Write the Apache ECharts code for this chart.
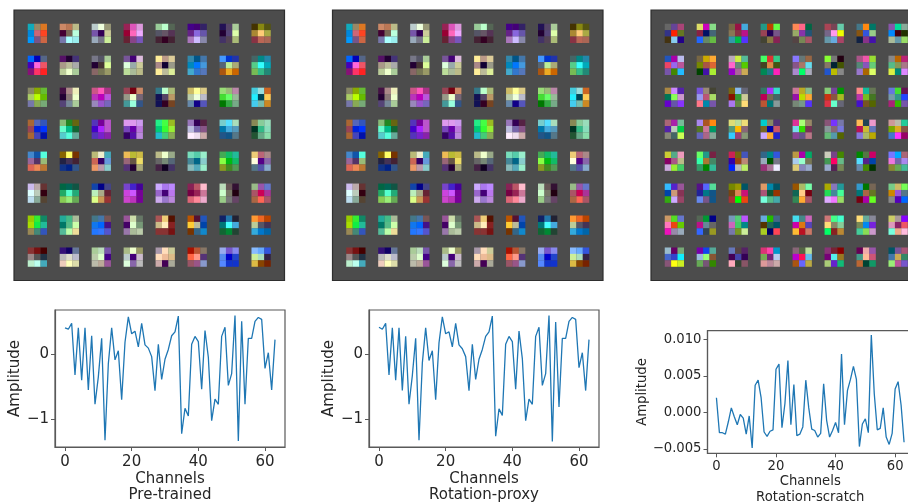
<!DOCTYPE html>
<html><head><meta charset="utf-8">
<style>html,body{margin:0;padding:0;background:#fff;overflow:hidden}#c{width:908px;height:502px}</style>
<script src="https://cdn.jsdelivr.net/npm/echarts@6/dist/echarts.min.js"></script>
</head><body><div id="c"></div>
<script>
// Filter tiles: 8 rows of 8 tiles, each tile 3x3 cells (3-digit hex colours, row by row)
const pretrainedFilters = [
"1AB 986 D72 08D C67 F42 09F 758 C64","C86 B75 BB8 403 765 BFD 77A AFF 9EE","BCC EFD 997 75A 305 CC9 9AB 778 CE9","925 D5B D9D 903 F6B EAF 623 848 75B","9C9 BFC 565 556 656 535 423 302 423","408 407 326 628 86D 65A A7B CBF 88A","215 546 AC9 203 547 DFA 436 545 AB7","430 881 551 A83 FC7 AA4 834 B65 A65",
"06F 00B 568 40B F6D E56 817 F36 F22","516 203 437 A98 BB9 AAA BC9 EFC AC9","778 556 AC9 203 433 DF9 866 775 996","759 407 DBD DFD 9AA CC9 BD9 AB9 BB8","FE9 B98 DC9 A88 103 998 FE9 BB9 DE9","38A 058 47A 08B 07F 49D 4AC 37C 57B","49F 03C 23A 567 BE9 AA7 A51 EA2 C60","466 088 28A 5C8 3FF 0AB 7B5 3B8 287",
"886 8A0 6B3 AC6 BF0 6B0 77A 8A5 7A7","414 A88 EEB 203 877 EFC 547 789 AC9","C58 F5B A38 B3B B0B B5D 98B 95C 76B","945 701 C86 998 EFC 767 499 9FD 358","378 BFC AB7 115 546 B96 115 302 742","CB6 FF9 DC8 BCA EFD BBC 68A 108 55B","9D7 9B7 B8A 4D3 6F6 9B9 070 3A4 7A8","4CD 9DD C62 2EF 045 FC5 4CE 7BA C82",
"A63 56B 35B 945 02D 03F A63 44B 01A","8B7 282 661 6FC 0B8 163 5CC 5FD 6A9","53B 709 B5C 40C A2F B5C 53B 72C 82A","D9E D9E C9E 74B 60A B7D 306 51A B8D","2E8 4F4 9B2 0C7 3F3 9E3 2BC 4C7 8A5","97B 305 524 BBD 76A 858 FEF EDE CAA","7CC 5DF ADB 07A 4AD 59B 258 158 578","885 8C9 9DB 032 3B8 8DB 253 6A8 8DA",
"48C 15A 5FD 969 536 9B7 D65 E85 B73","860 FF6 730 224 435 423 138 028 358","BB7 EEC 4AB C65 306 69D E96 B9A 8CC","EB5 BB3 CB4 967 654 ED6 537 203 AA7","BB8 EFC 9A8 666 787 567 424 102 436","7DB 5CA 9EC 489 068 8CC 8BB 5AB 9EC","4A5 1B6 2B9 8F4 0B1 1B6 892 482 595","EC7 B67 A88 FFD 508 86A 578 55A 8AC",
"CBE BAA 633 DFF BCB 301 BDE 8A9 543","064 065 154 2A6 5FC 2A7 8C5 9E7 6A5","14A 008 448 BEB AA8 623 DF8 C95 933","74C 42C 409 C4D C5F 709 C4C B3B 709","CAF A7E B8F 96C 407 B7E CAE 97C B8D","825 B56 FBC 704 925 C79 D67 F89 EAC","BDB 655 313 CFC 776 201 9C8 777 646","9B8 95A 67C A56 C05 A39 A64 F65 A56",
"9C0 3E3 186 AD0 1E4 2B9 985 487 35B","2A9 4B8 AB9 076 5B8 CFA 5B9 BFA ED9","478 47A 755 17E 06F 418 27F 37F 55C","959 CDA 676 406 DFC 797 97A AB9 BCA","A55 EC7 510 CB8 FEB 822 833 833 711","B50 513 25B FC3 BB9 04A 730 368 18C","126 27A 223 077 4FF 4AD 163 083 243","F93 E62 B40 BC9 556 435 3AD 07C 06A",
"833 711 400 988 555 234 BEC BFE 4AB","317 106 679 BBB DDC BBC ECB FFB DDA","AC9 BDB 75A BCA DFC 408 BBA BA9 959","AB8 EFC 996 BCC 407 CBC DFD 86A BBB","A9A FDB CC9 FDB EB9 DB8 CAA 405 AA9","A10 B53 876 F64 F98 537 956 958 89C","9AE 75C 88E 58E 00C 24C 58F 13C 13C","8BF 6AF 35D CE9 ADB 324 DB4 840 720"
];
const proxyFilters = pretrainedFilters;
const scratchFilters = [
"666 649 A47 338 F20 672 431 8CE 208","DD6 C0B 8D8 824 016 467 26F 686 6B4","764 914 4AD 875 834 B18 39A 0B4 53F","298 B40 6F4 945 205 758 443 874 825","F85 F68 064 9A6 83A 257 544 785 A56","A45 745 6CA 768 F9E EF0 69A 6AD A46","478 F81 076 851 35D 9C8 124 838 41A","85A 0D9 8A9 08F 401 230 AB9 69A 9D6",
"25B A0A BBE E46 96E B59 75A 480 2BF","764 CA0 FA3 780 A54 D63 040 41A AE3","BAB CE4 5B9 F6C 687 5C0 90C A69 CA5","4F6 D33 3C8 442 D84 451 085 278 F2B","87F 677 964 858 A76 6DE A8C 0F6 AAB","8F3 777 201 876 023 450 25C BB0 888","A58 E5A 9D3 587 85B 6C7 97C A60 DF6","888 B60 B27 5B8 895 A78 DE4 087 D8F",
"A84 C8F 52A 075 8F5 C9C 60C 65A 83F","75D 987 443 99E B57 AD6 F78 08A 75A","761 8BE 667 810 393 CC9 A7E 684 FD7","376 A3F 3DC B05 765 466 B53 077 899","C79 BA2 8B8 91A BD0 FA3 787 798 53F","8C7 749 090 C31 854 AB2 D34 6FC 667","F88 1B9 675 B3A 7B2 472 41C 752 560","67D 4D3 615 79A 398 24F A27 3B0 75A",
"A67 A2A 7B9 52A BCB 0C4 887 466 CF5","A8E A52 F81 572 C79 096 66B A68 8A9","DD7 BD9 ED7 597 FB0 867 3CF 947 897","0CC 886 537 762 00A C56 CAF FA3 22C","D39 AF7 986 7DE 3D0 735 849 658 B78","857 73F 77A 899 867 77D 6B7 59A 560","FB5 245 E9C B15 CB3 67B 87D AB6 BA0","C99 BBA 2C9 7A0 DA2 854 47C F3F 906",
"CC3 5A8 E9B 806 A58 BB8 CAD 9E3 4C6","6F6 298 724 3FA A73 486 396 080 3B9","C25 761 45B 30A 941 B87 02F BBB BE6","368 088 35D 9AB 050 778 937 A79 EEF","B94 A0A 0A6 ACE 9FC 775 DC7 88B 9AC","CCB 748 480 495 F06 6B8 9AC 525 785","080 574 C06 5DF 528 04A 68A 480 030","77F 0AF A67 E7D 76A A8E 883 6A5 4B9",
"3BF 52C 959 04A C97 835 3A1 CAF 946","518 56F 5D9 229 078 158 68E 758 158","780 990 056 741 D85 C17 A33 0F0 E41","D96 08A 056 A57 153 930 7FD 5B8 4AA","950 AB6 7FA 165 FC8 701 385 FA3 A56","AA0 87B 299 2D5 489 4F9 DAF E7F 9D6","39C 070 765 077 A64 672 701 A0A 6F2","7C8 CB6 7F5 C80 95D 578 888 50B 06F",
"C96 5D2 67C F7B E41 6C0 E1B 98A 9AB","565 093 008 B18 689 666 36F 345 992","79B 5C7 B5F C6B 4C6 088 77A 792 CE9","6AD 2B0 468 530 265 056 AC2 006 F45","4DE 488 C6B C0A D71 54B FB3 B12 C76","C77 4F8 4FC FD7 886 8C9 0F6 822 B83","FD7 6A9 889 785 08E 72D 4C9 8D5 C9C","CC6 A99 80F D9B 826 E56 7FD EA8 FBD",
"9BC 606 7A7 46C 34C 1EF 857 FF1 CE2","70A 14E 5A9 9BD 9F7 853 6A5 757 380","67B 544 526 405 44A 305 FAB 343 856","D37 F4A 09C 7A5 727 BCE D99 B89 CAA","867 564 BD9 B0C F15 6BE A51 66F BA4","837 723 800 707 5EE 972 AC7 62C 1B7","605 EAA 95A 498 FB9 C57 B63 043 196","056 759 A57 47A CA5 386 9E7 B59 75C"
];
const pretrainedAmp = [0.40,0.38,0.47,-0.32,0.40,-0.40,0.40,-0.55,0.28,-0.77,-0.35,0.24,-1.32,-0.15,0.40,-0.09,0.05,-0.70,0.18,0.57,0.31,0.35,0.11,0.47,0.14,0.09,-0.04,-0.56,0.15,-0.39,-0.08,0.07,0.28,0.34,0.58,-1.22,-0.83,-0.95,0.15,0.27,0.19,-0.54,0.36,-0.05,-1.02,-0.69,-0.77,0.27,0.41,-0.48,-0.30,0.59,-1.33,0.50,-0.77,0.24,0.24,0.50,0.56,0.53,-0.22,0.02,-0.55,0.22];
const proxyAmp = [0.41,0.38,0.47,-0.32,0.40,-0.40,0.40,-0.56,0.27,-0.77,-0.33,0.24,-1.32,-0.14,0.40,-0.10,0.05,-0.70,0.17,0.57,0.31,0.34,0.11,0.47,0.14,0.08,-0.04,-0.56,0.15,-0.39,-0.08,0.07,0.27,0.34,0.58,-1.26,-0.84,-0.94,0.15,0.27,0.19,-0.54,0.35,-0.07,-1.02,-0.69,-0.77,0.27,0.41,-0.48,-0.30,0.59,-1.34,0.49,-0.81,0.24,0.24,0.50,0.56,0.53,-0.21,0.02,-0.56,0.22];
const scratchAmp = [0.0020,-0.0028,-0.0028,-0.0030,-0.0013,0.0006,-0.0006,-0.0017,-0.0003,-0.0008,-0.0030,-0.0005,-0.0049,0.0037,0.0044,0.0020,-0.0027,-0.0033,-0.0026,-0.0024,0.0059,0.0066,-0.0021,0.0012,0.0071,-0.0017,0.0038,-0.0032,-0.0030,-0.0020,0.0044,0.0006,-0.0023,-0.0025,-0.0034,-0.0029,0.0039,-0.0011,-0.0034,-0.0025,-0.0014,-0.0028,0.0080,-0.0017,0.0030,0.0045,0.0063,0.0045,-0.0047,-0.0016,-0.0009,-0.0028,0.0106,0.0025,-0.0024,-0.0022,0.0006,-0.0034,-0.0044,-0.0029,0.0032,0.0042,0.0010,-0.0041];
const xTicks = [0,20,40,60];
const yTicksLarge = [-1,0];
const yTicksSmall = [-0.005,0,0.005,0.01];
const titles = ["Pre-trained","Rotation-proxy","Rotation-scratch"];

const chart = echarts.init(document.getElementById('c'), null, {renderer:'canvas'});
const INK='#262626', AX='#595959', FONT='DejaVu Sans';
const CELL=6.4, MARGIN=13.8/CELL;
const grids=[], xAxes=[], yAxes=[], series=[];

function addImage(left, tiles){
  const i=grids.length;
  grids.push({left, top:10, width:270.5, height:270.5, show:true, backgroundColor:'#4c4c4c', borderColor:'#2e2e2e', borderWidth:1.2, outerBoundsMode:'none'});
  const ax={type:'value', show:false, gridIndex:i, min:-MARGIN, max:38+MARGIN};
  xAxes.push({...ax}); yAxes.push({...ax, inverse:true});
  const data=[];
  tiles.forEach((t,k)=>{
    const c0=(k%8)*5, r0=Math.floor(k/8)*5;
    t.split(' ').forEach((h,j)=>{
      data.push({value:[c0+j%3+.5, r0+Math.floor(j/3)+.5], itemStyle:{color:'#'+h}});
    });
  });
  series.push({type:'scatter', xAxisIndex:i, yAxisIndex:i, symbol:'rect', symbolSize:6.5, silent:true, data, itemStyle:{opacity:1}});
}
function addLine(g, vals, fs, yTicks, yMin, yMax, fmt, title, nameGapY, nameGapX, marginX, lh){
  const i=grids.length;
  grids.push({left:g[0], top:g[1], width:g[2], height:g[3], show:true, borderColor:AX, borderWidth:1.2, outerBoundsMode:'none'});
  const common={axisLine:{show:true,onZero:false,lineStyle:{color:AX,width:1.2}}, splitLine:{show:false}};
  xAxes.push({...common, type:'value', gridIndex:i, min:-3, max:66,
    axisTick:{show:true,length:4,lineStyle:{color:AX,width:1},customValues:xTicks},
    axisLabel:{fontFamily:FONT,fontSize:fs,color:INK,margin:marginX,customValues:xTicks,formatter:v=>String(v)},
    name:'Channels\n'+title, nameLocation:'middle', nameGap:nameGapX,
    nameTextStyle:{fontFamily:FONT,fontSize:fs,color:INK,lineHeight:lh,verticalAlign:'top'}});
  yAxes.push({...common, type:'value', gridIndex:i, min:yMin, max:yMax,
    axisTick:{show:true,length:4,lineStyle:{color:AX,width:1},customValues:yTicks},
    axisLabel:{fontFamily:FONT,fontSize:fs,color:INK,margin:6,customValues:yTicks,formatter:fmt},
    name:'Amplitude', nameLocation:'middle', nameGap:nameGapY, nameRotate:90,
    nameTextStyle:{fontFamily:FONT,fontSize:fs,color:INK}});
  series.push({type:'line', xAxisIndex:i, yAxisIndex:i, showSymbol:false, symbol:'none', silent:true,
    lineStyle:{color:'#1f77b4',width:1.3}, data:vals.map((v,k)=>[k,v])});
}
const fmtL=v=>String(v).replace('-','\u2212');
const fmtS=v=>v.toFixed(3).replace('-','\u2212');

addImage(14,pretrainedFilters);
addImage(332.5,proxyFilters);
addImage(651,scratchFilters);
addLine([55,310,230,137],pretrainedAmp,15,yTicksLarge,-1.424,0.674,fmtL,titles[0],28,22,8,16);
addLine([369,310,230,137],proxyAmp,15,yTicksLarge,-1.424,0.674,fmtL,titles[1],28,22,8,16);
addLine([707.5,330.7,205.5,122.6],scratchAmp,13.2,yTicksSmall,-0.00562,0.01118,fmtS,titles[2],56,19,7,15.5);

chart.setOption({animation:false, grid:grids, xAxis:xAxes, yAxis:yAxes, series});
</script></body></html>
